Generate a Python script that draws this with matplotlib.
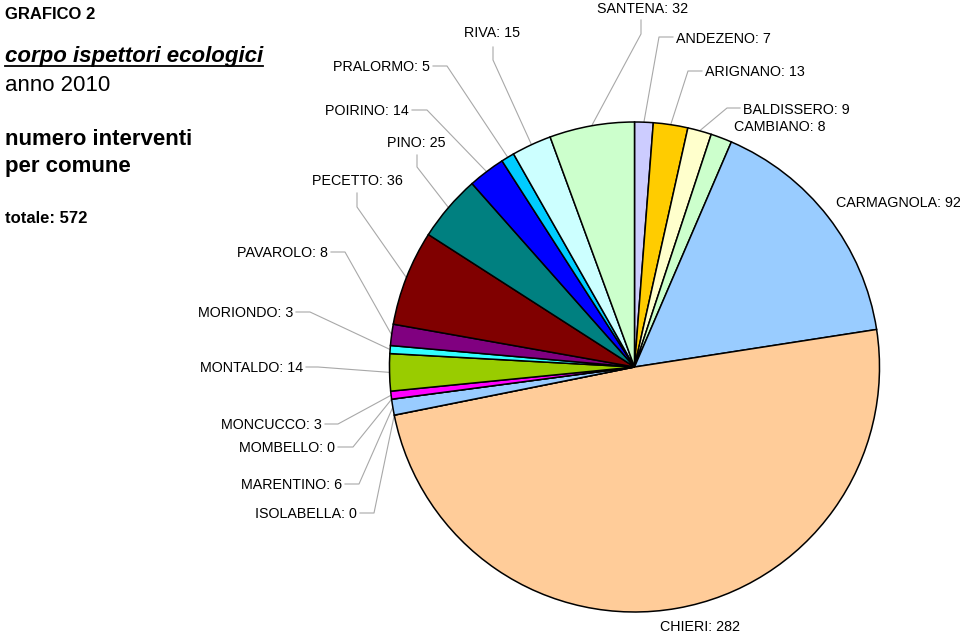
import numpy as np
import matplotlib
matplotlib.use('Agg')
import matplotlib.pyplot as plt

plt.rcParams['font.family'] = ['Liberation Sans', 'DejaVu Sans']

COMUNI = ['ANDEZENO', 'ARIGNANO', 'BALDISSERO', 'CAMBIANO', 'CARMAGNOLA', 'CHIERI',
          'ISOLABELLA', 'MARENTINO', 'MOMBELLO', 'MONCUCCO', 'MONTALDO', 'MORIONDO',
          'PAVAROLO', 'PECETTO', 'PINO', 'POIRINO', 'PRALORMO', 'RIVA', 'SANTENA']
INTERVENTI = [7, 13, 9, 8, 92, 282, 0, 6, 0, 3, 14, 3, 8, 36, 25, 14, 5, 15, 32]
COLORI = ['#CCCCFF', '#FFCC00', '#FFFFCC', '#CCFFCC', '#99CCFF', '#FFCC99',
          '#99CCFF', '#99CCFF', '#FF00FF', '#FF00FF', '#99CC00', '#33FFFF',
          '#800080', '#800000', '#008080', '#0000FF', '#00CCFF', '#CCFFFF', '#CCFFCC']

# posizione etichette in pixel (x, linea base, allineamento, punti della linea guida)
ETICHETTE = {
    'SANTENA': (643, 13, 'center', [(641, 20), (641, 34)]),
    'ANDEZENO': (676, 43, 'left', [(673, 37), (659, 37)]),
    'ARIGNANO': (705, 76, 'left', [(702, 71), (688, 71)]),
    'BALDISSERO': (743, 114, 'left', [(740, 108), (727, 108)]),
    'CAMBIANO': (734, 131, 'left', None),
    'CARMAGNOLA': (836, 207, 'left', None),
    'CHIERI': (700, 631, 'center', None),
    'ISOLABELLA': (357, 518, 'right', [(360, 513), (374, 513)]),
    'MARENTINO': (342, 489, 'right', [(345, 484), (359, 484)]),
    'MOMBELLO': (335, 452, 'right', [(338, 447), (353, 447)]),
    'MONCUCCO': (322, 429, 'right', [(325, 424), (338, 424)]),
    'MONTALDO': (303, 372, 'right', [(306, 367), (318, 367)]),
    'MORIONDO': (293, 317, 'right', [(296, 312), (310, 312)]),
    'PAVAROLO': (328, 257, 'right', [(331, 252), (345, 252)]),
    'PECETTO': (357, 185, 'center', [(357, 193), (357, 207)]),
    'PINO': (416, 147, 'center', [(417, 155), (417, 167)]),
    'POIRINO': (409, 115, 'right', [(412, 110), (427, 110)]),
    'PRALORMO': (430, 71, 'right', [(433, 66), (447, 66)]),
    'RIVA': (492, 37, 'center', [(493, 47), (493, 60)]),
}

CENTRO = (634.5, 367)
RAGGIO = 245

fig = plt.figure(figsize=(9.6, 6.33), dpi=100)
ax = fig.add_axes([0, 0, 1, 1])

wedges, _ = ax.pie(INTERVENTI, colors=COLORI, center=CENTRO, radius=RAGGIO,
                   startangle=270, counterclock=True,
                   wedgeprops=dict(edgecolor='black', linewidth=1.1))
ax.set_xlim(0, 960)
ax.set_ylim(633, 0)
ax.axis('off')

for nome, valore, w in zip(COMUNI, INTERVENTI, wedges):
    x, y, ha, guida = ETICHETTE[nome]
    ax.text(x, y, f'{nome}: {valore}', ha=ha, va='baseline', fontsize=10.3, color='black')
    if guida:
        ang = np.deg2rad((w.theta1 + w.theta2) / 2)
        bordo = (CENTRO[0] + RAGGIO * np.cos(ang), CENTRO[1] + RAGGIO * np.sin(ang))
        pts = guida + [bordo]
        ax.plot([p[0] for p in pts], [p[1] for p in pts], color='#A8A8A8', linewidth=0.8, zorder=0)

ax.text(5, 19, 'GRAFICO 2', fontsize=12, fontweight='bold', va='baseline')
t = ax.text(5, 62, 'corpo ispettori ecologici', fontsize=16, fontweight='bold',
            fontstyle='italic', va='baseline')
ax.text(5, 91, 'anno 2010', fontsize=16, va='baseline')
ax.text(5, 145, 'numero interventi', fontsize=16, fontweight='bold', va='baseline')
ax.text(5, 172, 'per comune', fontsize=16, fontweight='bold', va='baseline')
ax.text(5, 223, 'totale: 572', fontsize=12, fontweight='bold', va='baseline')

# sottolineatura del sottotitolo
fig.canvas.draw()
bb = t.get_window_extent().transformed(ax.transData.inverted())
ax.plot([bb.x0, bb.x1], [66, 66], color='black', linewidth=1.3)

fig.savefig('out.png', dpi=100)
